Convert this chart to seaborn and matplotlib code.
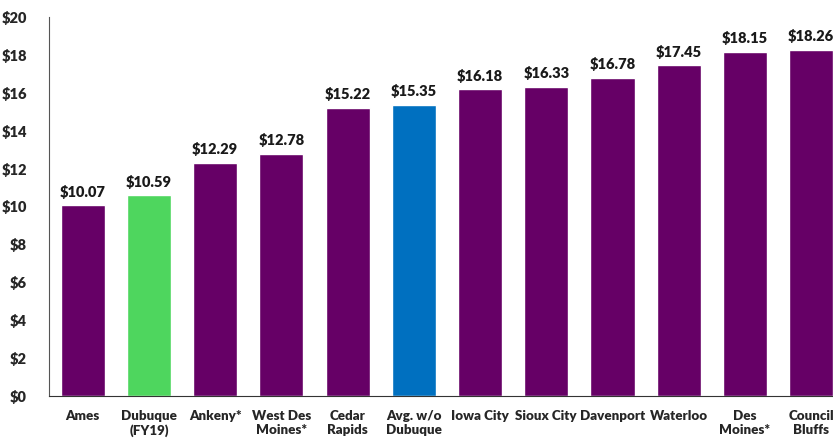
import matplotlib
matplotlib.use("Agg")
import matplotlib.pyplot as plt
import seaborn as sns
import pandas as pd

cities = ["Ames", "Dubuque\n(FY19)", "Ankeny*", "West Des\nMoines*", "Cedar\nRapids",
          "Avg. w/o\nDubuque", "Iowa City", "Sioux City", "Davenport", "Waterloo",
          "Des\nMoines*", "Council\nBluffs"]
rates = [10.07, 10.59, 12.29, 12.78, 15.22, 15.35, 16.18, 16.33, 16.78, 17.45, 18.15, 18.26]
colors = ["#660066", "#4ED65E", "#660066", "#660066", "#660066", "#0070C0",
          "#660066", "#660066", "#660066", "#660066", "#660066", "#660066"]

df = pd.DataFrame({"city": cities, "rate": rates})

sns.set_style("white")
plt.rcParams["font.family"] = ["Lato", "DejaVu Sans"]

fig = plt.figure(figsize=(8.33, 4.4), dpi=100)
ax = fig.add_axes([0.0588, 0.1, 0.9412, 0.8614])

sns.barplot(data=df, x="city", y="rate", hue="city", palette=colors,
            legend=False, width=0.665, saturation=1, ax=ax)

for i, v in enumerate(rates):
    ax.text(i, v + 0.35, f"${v:.2f}", ha="center", va="bottom",
            fontsize=10.5, fontweight="heavy", color="#1a1a1a")

ax.set_ylim(0, 20)
ax.set_xlim(-0.51, 11.33)
ax.set_yticks(range(0, 21, 2))
ax.set_yticklabels([f"${t}" for t in range(0, 21, 2)], fontsize=10.5, fontweight="heavy")
ax.tick_params(axis="x", labelsize=9.6, pad=10, length=0)
ax.tick_params(axis="y", pad=16, length=0)
for lbl in ax.get_xticklabels():
    lbl.set_fontweight("heavy")
ax.set_xlabel("")
ax.set_ylabel("")
sns.despine(ax=ax, top=True, right=True)
ax.spines["left"].set_color("#555555")
ax.spines["bottom"].set_color("#333333")

fig.savefig("out.png", dpi=100)
